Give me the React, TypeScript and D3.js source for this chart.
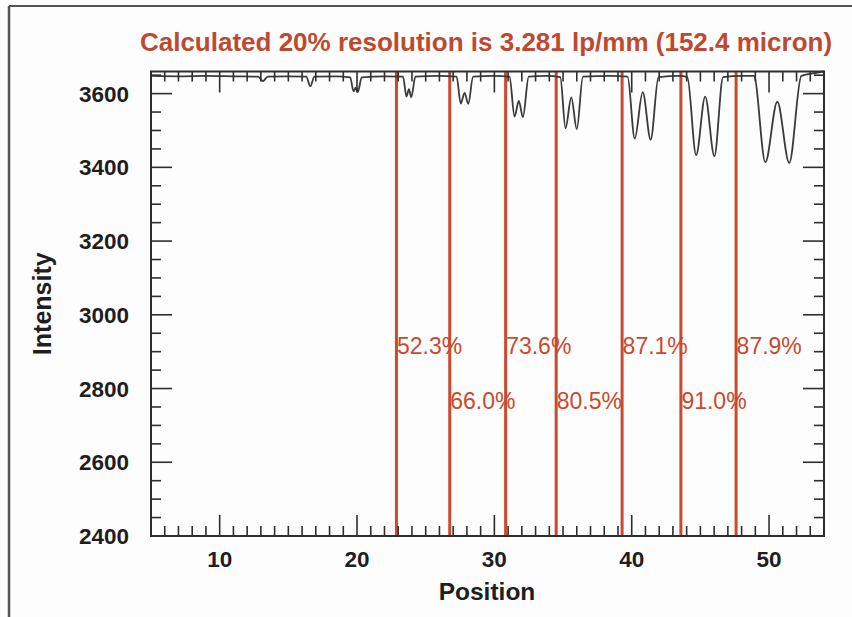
import React from "react";
import * as d3 from "d3";

const W = 852;
const H = 617;

// Intensity profile (position, intensity)
const profilePositions = [
  5.0, 7.0, 9.0, 11.0, 12.8, 13.15, 13.5, 15.0, 16.3, 16.6, 16.9, 18.5,
  19.5, 19.75, 19.9, 20.05, 20.35, 22.0,
  23.35, 23.6, 23.78, 23.95, 24.25, 26.0,
  27.25, 27.55, 27.83, 28.1, 28.45, 30.0,
  31.1, 31.47, 31.78, 32.08, 32.5, 33.8,
  34.8, 35.18, 35.6, 36.0, 36.45, 38.5,
  39.7, 40.22, 40.8, 41.38, 41.95, 43.5,
  44.05, 44.69, 45.35, 46.02, 46.65, 48.0,
  48.9, 49.73, 50.6, 51.47, 52.35, 53.2, 54.0,
];
const profileIntensity = [
  3648, 3647, 3648, 3647, 3646, 3634, 3646, 3647, 3646, 3620, 3646, 3647,
  3644, 3606, 3616, 3604, 3644, 3647,
  3646, 3592, 3612, 3590, 3646, 3648,
  3646, 3573, 3602, 3572, 3646, 3648,
  3646, 3538, 3580, 3536, 3646, 3648,
  3645, 3506, 3590, 3504, 3646, 3648,
  3646, 3478, 3604, 3475, 3645, 3648,
  3645, 3433, 3592, 3430, 3645, 3648,
  3648, 3414, 3578, 3412, 3648, 3655, 3660,
];

// Red marker lines and their contrast labels
const markerPositions = [22.87, 26.75, 30.82, 34.5, 39.3, 43.58, 47.6];
const markerLabels = ["52.3%", "66.0%", "73.6%", "80.5%", "87.1%", "91.0%", "87.9%"];

const xMajorTicks = [10, 20, 30, 40, 50];
const yMajorTicks = [2400, 2600, 2800, 3000, 3200, 3400, 3600];

const titleText = "Calculated 20% resolution is 3.281 lp/mm (152.4 micron)";
const xTitle = "Position";
const yTitle = "Intensity";

const RED = "#c94a2c";
const AXIS = "#2e2e2e";
const FONT = "'Liberation Sans', Arial, Helvetica, sans-serif";

export default function App() {
  const left = 151, right = 824, top = 71.5, bottom = 536;
  const x = d3.scaleLinear().domain([5, 54]).range([left, right]);
  const y = d3.scaleLinear().domain([2400, 3660]).range([bottom, top]);

  const xMinor = d3.range(5, 55, 1).filter((v) => !xMajorTicks.includes(v));
  const yMinor = d3.range(2400, 3660, 50).filter((v) => !yMajorTicks.includes(v));

  const majLen = 21, minLen = 10;

  const pts: [number, number][] = profilePositions.map((p, i) => [p, profileIntensity[i]]);
  const line = d3
    .line<[number, number]>()
    .x((d) => x(d[0]))
    .y((d) => y(d[1]))
    .curve(d3.curveMonotoneX);

  const row1 = 2895, row2 = 2745;

  return (
    <svg
      width={W}
      height={H}
      style={{ position: "absolute", left: 0, top: 0, background: "#ffffff" }}
      fontFamily={FONT}
    >
      <rect x={0} y={0} width={W} height={H} fill="#fdfdfd" />
      {/* frame of the figure */}
      <line x1={9} y1={6} x2={W} y2={6} stroke="#555" strokeWidth={2} />
      <line x1={9} y1={6} x2={9} y2={H} stroke="#555" strokeWidth={2.5} />

      {/* title */}
      <text
        x={486}
        y={51}
        textAnchor="middle"
        fontSize={26}
        fontWeight="bold"
        fill="#bd4a30"
      >
        {titleText}
      </text>

      {/* red marker lines */}
      {markerPositions.map((p, i) => (
        <line key={"m" + i} x1={x(p)} x2={x(p)} y1={top} y2={bottom} stroke={RED} strokeWidth={3} />
      ))}

      {/* profile */}
      <path d={line(pts) || ""} fill="none" stroke="#3a3a3a" strokeWidth={1.8} />

      {/* marker labels */}
      {markerPositions.map((p, i) => (
        <text
          key={"l" + i}
          x={x(p) + 0.5}
          y={y(i % 2 === 0 ? row1 : row2)}
          fontSize={23}
          fill={RED}
        >
          {markerLabels[i]}
        </text>
      ))}

      {/* axes box */}
      <rect x={left} y={top} width={right - left} height={bottom - top} fill="none" stroke={AXIS} strokeWidth={2} />

      {/* x ticks bottom & top */}
      {xMajorTicks.map((t) => (
        <g key={"xM" + t}>
          <line x1={x(t)} x2={x(t)} y1={bottom} y2={bottom - majLen} stroke={AXIS} strokeWidth={1.6} />
          <line x1={x(t)} x2={x(t)} y1={top} y2={top + majLen} stroke={AXIS} strokeWidth={1.6} />
          <text x={x(t)} y={567} textAnchor="middle" fontSize={22.5} fontWeight="bold" fill="#1e1e1e">
            {t}
          </text>
        </g>
      ))}
      {xMinor.map((t) => (
        <g key={"xm" + t}>
          <line x1={x(t)} x2={x(t)} y1={bottom} y2={bottom - minLen} stroke={AXIS} strokeWidth={1.6} />
          <line x1={x(t)} x2={x(t)} y1={top} y2={top + minLen} stroke={AXIS} strokeWidth={1.6} />
        </g>
      ))}

      {/* y ticks left & right */}
      {yMajorTicks.map((t) => (
        <g key={"yM" + t}>
          <line x1={left} x2={left + majLen} y1={y(t)} y2={y(t)} stroke={AXIS} strokeWidth={1.6} />
          <line x1={right} x2={right - majLen} y1={y(t)} y2={y(t)} stroke={AXIS} strokeWidth={1.6} />
          <text x={129} y={y(t) + 8} textAnchor="end" fontSize={22.5} fontWeight="bold" fill="#1e1e1e">
            {t}
          </text>
        </g>
      ))}
      {yMinor.map((t) => (
        <g key={"ym" + t}>
          <line x1={left} x2={left + minLen} y1={y(t)} y2={y(t)} stroke={AXIS} strokeWidth={1.6} />
          <line x1={right} x2={right - minLen} y1={y(t)} y2={y(t)} stroke={AXIS} strokeWidth={1.6} />
        </g>
      ))}

      {/* axis titles */}
      <text x={487} y={600} textAnchor="middle" fontSize={24.5} fontWeight="bold" fill="#1e1e1e">
        {xTitle}
      </text>
      <text
        transform={`translate(51, ${(top + bottom) / 2}) rotate(-90)`}
        textAnchor="middle"
        fontSize={25}
        fontWeight="bold"
        fill="#1e1e1e"
      >
        {yTitle}
      </text>
    </svg>
  );
}
